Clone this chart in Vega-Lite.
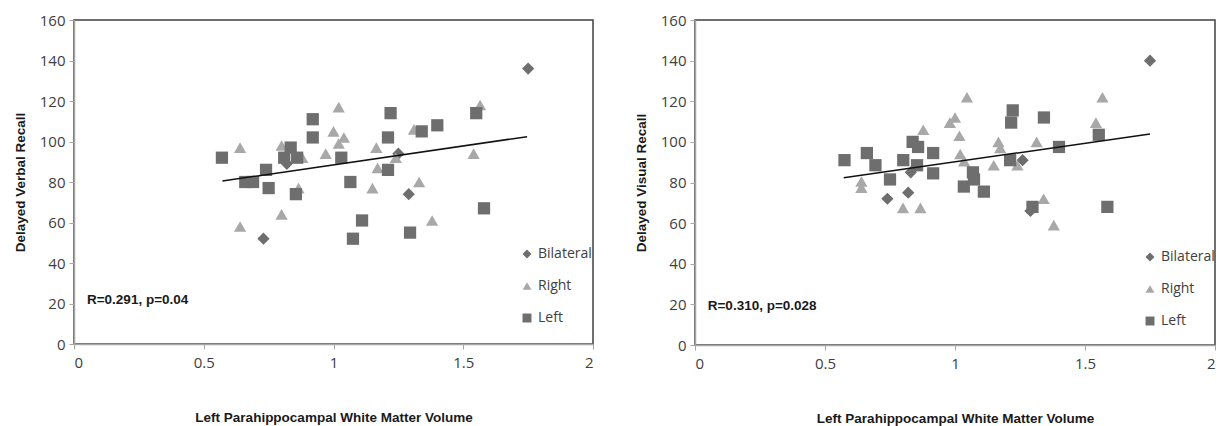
{
  "$schema": "https://vega.github.io/schema/vega-lite/v6.json",
  "background": "white",
  "padding": {"left": 12, "top": 12, "right": 0, "bottom": 0},
  "spacing": 38,
  "config": {
    "view": {"stroke": "#404040", "strokeWidth": 1.5},
    "axis": {
      "grid": false,
      "domainColor": "#a6a6a6",
      "domainWidth": 1.5,
      "tickColor": "#a6a6a6",
      "tickSize": 5,
      "labelFont": "Open Sans",
      "labelFontSize": 15,
      "labelColor": "#404040",
      "titleFont": "Liberation Sans",
      "titleFontWeight": "bold",
      "titleColor": "#1a1a1a",
      "zindex": 1
    },
    "legend": {
      "labelFont": "Open Sans",
      "labelFontSize": 14,
      "labelColor": "#404040",
      "symbolSize": 80,
      "rowPadding": 18,
      "labelOffset": 4,
      "labelLimit": 300
    }
  },
  "datasets": {
    "points": [
      {"panel": "verbal", "group": "Bilateral", "x": 0.73, "y": 52},
      {"panel": "verbal", "group": "Bilateral", "x": 0.82, "y": 89},
      {"panel": "verbal", "group": "Bilateral", "x": 1.25, "y": 94},
      {"panel": "verbal", "group": "Bilateral", "x": 1.29, "y": 74},
      {"panel": "verbal", "group": "Bilateral", "x": 1.75, "y": 136},
      {"panel": "verbal", "group": "Right", "x": 0.64, "y": 58},
      {"panel": "verbal", "group": "Right", "x": 0.64, "y": 97},
      {"panel": "verbal", "group": "Right", "x": 0.80, "y": 98},
      {"panel": "verbal", "group": "Right", "x": 0.80, "y": 64},
      {"panel": "verbal", "group": "Right", "x": 0.865, "y": 77},
      {"panel": "verbal", "group": "Right", "x": 0.88, "y": 92},
      {"panel": "verbal", "group": "Right", "x": 0.97, "y": 94},
      {"panel": "verbal", "group": "Right", "x": 1.0, "y": 105},
      {"panel": "verbal", "group": "Right", "x": 1.02, "y": 117},
      {"panel": "verbal", "group": "Right", "x": 1.02, "y": 99},
      {"panel": "verbal", "group": "Right", "x": 1.04, "y": 102},
      {"panel": "verbal", "group": "Right", "x": 1.15, "y": 77},
      {"panel": "verbal", "group": "Right", "x": 1.165, "y": 97},
      {"panel": "verbal", "group": "Right", "x": 1.17, "y": 87},
      {"panel": "verbal", "group": "Right", "x": 1.24, "y": 92},
      {"panel": "verbal", "group": "Right", "x": 1.31, "y": 106},
      {"panel": "verbal", "group": "Right", "x": 1.33, "y": 80},
      {"panel": "verbal", "group": "Right", "x": 1.38, "y": 61},
      {"panel": "verbal", "group": "Right", "x": 1.54, "y": 94},
      {"panel": "verbal", "group": "Right", "x": 1.565, "y": 118},
      {"panel": "verbal", "group": "Left", "x": 0.57, "y": 92},
      {"panel": "verbal", "group": "Left", "x": 0.66, "y": 80},
      {"panel": "verbal", "group": "Left", "x": 0.69, "y": 80},
      {"panel": "verbal", "group": "Left", "x": 0.74, "y": 86},
      {"panel": "verbal", "group": "Left", "x": 0.75, "y": 77},
      {"panel": "verbal", "group": "Left", "x": 0.81, "y": 92},
      {"panel": "verbal", "group": "Left", "x": 0.835, "y": 97},
      {"panel": "verbal", "group": "Left", "x": 0.86, "y": 92},
      {"panel": "verbal", "group": "Left", "x": 0.855, "y": 74},
      {"panel": "verbal", "group": "Left", "x": 0.92, "y": 111},
      {"panel": "verbal", "group": "Left", "x": 0.92, "y": 102},
      {"panel": "verbal", "group": "Left", "x": 1.03, "y": 92},
      {"panel": "verbal", "group": "Left", "x": 1.065, "y": 80},
      {"panel": "verbal", "group": "Left", "x": 1.075, "y": 52},
      {"panel": "verbal", "group": "Left", "x": 1.11, "y": 61},
      {"panel": "verbal", "group": "Left", "x": 1.21, "y": 86},
      {"panel": "verbal", "group": "Left", "x": 1.21, "y": 102},
      {"panel": "verbal", "group": "Left", "x": 1.22, "y": 114},
      {"panel": "verbal", "group": "Left", "x": 1.295, "y": 55},
      {"panel": "verbal", "group": "Left", "x": 1.34, "y": 105},
      {"panel": "verbal", "group": "Left", "x": 1.4, "y": 108},
      {"panel": "verbal", "group": "Left", "x": 1.55, "y": 114},
      {"panel": "verbal", "group": "Left", "x": 1.58, "y": 67},
      {"panel": "visual", "group": "Bilateral", "x": 0.74, "y": 72},
      {"panel": "visual", "group": "Bilateral", "x": 0.82, "y": 75},
      {"panel": "visual", "group": "Bilateral", "x": 0.83, "y": 85},
      {"panel": "visual", "group": "Bilateral", "x": 1.26, "y": 91},
      {"panel": "visual", "group": "Bilateral", "x": 1.29, "y": 66},
      {"panel": "visual", "group": "Bilateral", "x": 1.75, "y": 140},
      {"panel": "visual", "group": "Right", "x": 0.64, "y": 80.5},
      {"panel": "visual", "group": "Right", "x": 0.64, "y": 77.5},
      {"panel": "visual", "group": "Right", "x": 0.80, "y": 67.5},
      {"panel": "visual", "group": "Right", "x": 0.867, "y": 67.5},
      {"panel": "visual", "group": "Right", "x": 0.878, "y": 106},
      {"panel": "visual", "group": "Right", "x": 0.98, "y": 109.5},
      {"panel": "visual", "group": "Right", "x": 1.0, "y": 112},
      {"panel": "visual", "group": "Right", "x": 1.017, "y": 103},
      {"panel": "visual", "group": "Right", "x": 1.02, "y": 94},
      {"panel": "visual", "group": "Right", "x": 1.035, "y": 90.5},
      {"panel": "visual", "group": "Right", "x": 1.046, "y": 122},
      {"panel": "visual", "group": "Right", "x": 1.149, "y": 88.5},
      {"panel": "visual", "group": "Right", "x": 1.167, "y": 100},
      {"panel": "visual", "group": "Right", "x": 1.174, "y": 97},
      {"panel": "visual", "group": "Right", "x": 1.24, "y": 88.5},
      {"panel": "visual", "group": "Right", "x": 1.314, "y": 100},
      {"panel": "visual", "group": "Right", "x": 1.341, "y": 72},
      {"panel": "visual", "group": "Right", "x": 1.38, "y": 59},
      {"panel": "visual", "group": "Right", "x": 1.542, "y": 109.5},
      {"panel": "visual", "group": "Right", "x": 1.567, "y": 122},
      {"panel": "visual", "group": "Left", "x": 0.575, "y": 91},
      {"panel": "visual", "group": "Left", "x": 0.661, "y": 94.5},
      {"panel": "visual", "group": "Left", "x": 0.694, "y": 88.5},
      {"panel": "visual", "group": "Left", "x": 0.75, "y": 81.5},
      {"panel": "visual", "group": "Left", "x": 0.801, "y": 91},
      {"panel": "visual", "group": "Left", "x": 0.837, "y": 100},
      {"panel": "visual", "group": "Left", "x": 0.858, "y": 97.5},
      {"panel": "visual", "group": "Left", "x": 0.854, "y": 88.5},
      {"panel": "visual", "group": "Left", "x": 0.916, "y": 94.5},
      {"panel": "visual", "group": "Left", "x": 0.916, "y": 84.5},
      {"panel": "visual", "group": "Left", "x": 1.034, "y": 78},
      {"panel": "visual", "group": "Left", "x": 1.069, "y": 85},
      {"panel": "visual", "group": "Left", "x": 1.073, "y": 81.5},
      {"panel": "visual", "group": "Left", "x": 1.111, "y": 75.5},
      {"panel": "visual", "group": "Left", "x": 1.212, "y": 91},
      {"panel": "visual", "group": "Left", "x": 1.216, "y": 109.5},
      {"panel": "visual", "group": "Left", "x": 1.222, "y": 115.5},
      {"panel": "visual", "group": "Left", "x": 1.298, "y": 68},
      {"panel": "visual", "group": "Left", "x": 1.342, "y": 112},
      {"panel": "visual", "group": "Left", "x": 1.40, "y": 97.5},
      {"panel": "visual", "group": "Left", "x": 1.553, "y": 103.5},
      {"panel": "visual", "group": "Left", "x": 1.586, "y": 68}
    ],
    "trend": [
      {"panel": "verbal", "x": 0.572, "y": 80.5},
      {"panel": "verbal", "x": 1.746, "y": 102.4},
      {"panel": "visual", "x": 0.572, "y": 82.3},
      {"panel": "visual", "x": 1.75, "y": 103.9}
    ],
    "notes": [
      {"panel": "verbal", "x": 0.05, "y": 21.7, "label": "R=0.291, p=0.04"},
      {"panel": "visual", "x": 0.049, "y": 19.3, "label": "R=0.310, p=0.028"}
    ]
  },
  "resolve": {
    "scale": {"shape": "independent", "color": "independent"},
    "legend": {"shape": "independent", "color": "independent"}
  },
  "hconcat": [
    {
      "width": 519,
      "height": 324,
      "layer": [
        {
          "data": {"name": "points"},
          "transform": [{"filter": "datum.panel === 'verbal'"}],
          "mark": {"type": "point", "filled": true, "opacity": 1, "size": 150},
          "encoding": {
            "x": {"field": "x", "type": "quantitative", "scale": {"domain": [0, 2], "nice": false},
              "axis": {"values": [0, 0.5, 1, 1.5, 2], "format": "~g", "title": "Left Parahippocampal White Matter Volume", "titleFontSize": 13.5, "titlePadding": 40, "labelPadding": 6}},
            "y": {"field": "y", "type": "quantitative", "scale": {"domain": [0, 160], "nice": false},
              "axis": {"values": [0, 20, 40, 60, 80, 100, 120, 140, 160], "title": "Delayed Verbal Recall", "titleFontSize": 13.5, "titlePadding": 12, "labelPadding": 4}},
            "shape": {"field": "group", "type": "nominal",
              "scale": {"domain": ["Bilateral", "Right", "Left"], "range": ["diamond", "triangle-up", "square"]},
              "legend": {"title": null, "orient": "none", "legendX": 446, "legendY": 227}},
            "color": {"field": "group", "type": "nominal",
              "scale": {"domain": ["Bilateral", "Right", "Left"], "range": ["#6e6e6e", "#a8a8a8", "#6e6e6e"]},
              "legend": {"title": null, "orient": "none", "legendX": 446, "legendY": 227}}
          }
        },
        {
          "data": {"name": "trend"},
          "transform": [{"filter": "datum.panel === 'verbal'"}],
          "mark": {"type": "line", "color": "#111111", "strokeWidth": 1.5},
          "encoding": {"x": {"field": "x", "type": "quantitative"}, "y": {"field": "y", "type": "quantitative"}}
        },
        {
          "data": {"name": "notes"},
          "transform": [{"filter": "datum.panel === 'verbal'"}],
          "mark": {"type": "text", "align": "left", "baseline": "middle", "font": "Liberation Sans", "fontWeight": "bold", "fontSize": 13.5, "color": "#1a1a1a"},
          "encoding": {"x": {"field": "x", "type": "quantitative"}, "y": {"field": "y", "type": "quantitative"}, "text": {"field": "label"}}
        }
      ]
    },
    {
      "width": 520,
      "height": 325,
      "layer": [
        {
          "data": {"name": "points"},
          "transform": [{"filter": "datum.panel === 'visual'"}],
          "mark": {"type": "point", "filled": true, "opacity": 1, "size": 150},
          "encoding": {
            "x": {"field": "x", "type": "quantitative", "scale": {"domain": [0, 2], "nice": false},
              "axis": {"values": [0, 0.5, 1, 1.5, 2], "format": "~g", "title": "Left Parahippocampal White Matter Volume", "titleFontSize": 13.5, "titlePadding": 40, "labelPadding": 6}},
            "y": {"field": "y", "type": "quantitative", "scale": {"domain": [0, 160], "nice": false},
              "axis": {"values": [0, 20, 40, 60, 80, 100, 120, 140, 160], "title": "Delayed Visual Recall", "titleFontSize": 13.5, "titlePadding": 12, "labelPadding": 4}},
            "shape": {"field": "group", "type": "nominal",
              "scale": {"domain": ["Bilateral", "Right", "Left"], "range": ["diamond", "triangle-up", "square"]},
              "legend": {"title": null, "orient": "none", "legendX": 448, "legendY": 230}},
            "color": {"field": "group", "type": "nominal",
              "scale": {"domain": ["Bilateral", "Right", "Left"], "range": ["#6e6e6e", "#a8a8a8", "#6e6e6e"]},
              "legend": {"title": null, "orient": "none", "legendX": 448, "legendY": 230}}
          }
        },
        {
          "data": {"name": "trend"},
          "transform": [{"filter": "datum.panel === 'visual'"}],
          "mark": {"type": "line", "color": "#111111", "strokeWidth": 1.5},
          "encoding": {"x": {"field": "x", "type": "quantitative"}, "y": {"field": "y", "type": "quantitative"}}
        },
        {
          "data": {"name": "notes"},
          "transform": [{"filter": "datum.panel === 'visual'"}],
          "mark": {"type": "text", "align": "left", "baseline": "middle", "font": "Liberation Sans", "fontWeight": "bold", "fontSize": 13.5, "color": "#1a1a1a"},
          "encoding": {"x": {"field": "x", "type": "quantitative"}, "y": {"field": "y", "type": "quantitative"}, "text": {"field": "label"}}
        }
      ]
    }
  ]
}
